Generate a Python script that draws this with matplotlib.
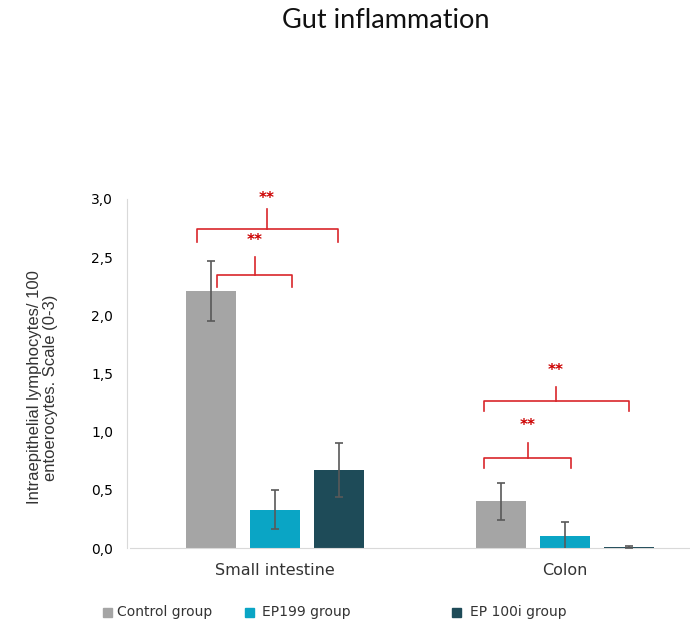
import matplotlib
matplotlib.use("Agg")
import matplotlib.pyplot as plt
import numpy as np

categories = ["Small intestine", "Colon"]
series_names = ["Control group", "EP199 group", "EP 100i group"]
control = [2.21, 0.40]
ep199 = [0.33, 0.10]
ep100i = [0.67, 0.01]
control_err = [0.26, 0.16]
ep199_err = [0.165, 0.12]
ep100i_err = [0.235, 0.01]
yticks = [0.0, 0.5, 1.0, 1.5, 2.0, 2.5, 3.0]
ytick_labels = ["0,0", "0,5", "1,0", "1,5", "2,0", "2,5", "3,0"]
colors = ["#A5A5A5", "#0AA5C5", "#1E4B58"]

fig = plt.figure(figsize=(6.9, 6.25), dpi=100)
ax = fig.add_axes([0.188, 0.1232, 0.812, 0.5584])

x = np.arange(len(categories))
w = 0.172
off = 0.221
vals = [control, ep199, ep100i]
errs = [control_err, ep199_err, ep100i_err]
for i, (v, e, c, n) in enumerate(zip(vals, errs, colors, series_names)):
    ax.bar(x + (i - 1) * off, v, w, color=c, label=n, zorder=2)
    ax.errorbar(x + (i - 1) * off, v, yerr=e, fmt="none", ecolor="#595959",
                elinewidth=1.2, capsize=3, capthick=1.2, zorder=3)

ax.set_xlim(-0.5, 1.43)
ax.set_ylim(0, 3.0)
ax.set_yticks(yticks)
ax.set_yticklabels(ytick_labels, fontsize=10, color="#404040", family="DejaVu Sans")
ax.set_xticks(x)
ax.set_xticklabels(categories, fontsize=11.5, color="#333333", family="DejaVu Sans")
ax.tick_params(length=0)
ax.tick_params(axis="y", pad=10)
ax.tick_params(axis="x", pad=11)
for s in ["top", "right"]:
    ax.spines[s].set_visible(False)
ax.spines["left"].set_color("#D9D9D9")
ax.spines["bottom"].set_color("#D9D9D9")
ax.spines["left"].set_position(("outward", 2))
ax.set_ylabel("Intraepithelial lymphocytes/ 100\nentoerocytes. Scale (0-3)",
              fontsize=12, family="Liberation Sans", color="#333333",
              linespacing=1.05, va="center", ha="center")
ax.yaxis.set_label_coords(-0.156, 0.46)

red = "#D9262B"
def brace(x0, x1, xt, y0, yh, yt, ys):
    ax.plot([x0, x0, x1, x1], [y0, yh, yh, y0], color=red, lw=1.2,
            clip_on=False, solid_joinstyle="round", zorder=4)
    ax.plot([xt, xt], [yh, yt], color=red, lw=1.2, clip_on=False, zorder=4)
    ax.text(xt, ys, "**", color="#CC0000", ha="center", va="center", fontsize=11,
            fontweight="bold", clip_on=False)

# small intestine
brace(-0.200, 0.059, -0.069, 2.24, 2.35, 2.50, 2.64)
brace(-0.269, 0.217, -0.028, 2.63, 2.74, 2.91, 3.00)
# colon
brace(1 - 0.279, 1 + 0.021, 1 - 0.128, 0.69, 0.775, 0.90, 1.05)
brace(1 - 0.279, 1 + 0.221, 1 - 0.031, 1.18, 1.265, 1.385, 1.53)

fig.text(0.559, 0.968, "Gut inflammation", ha="center", va="center",
         fontsize=19.5, family="Lato", color="#111111")

sq_x = [103, 245, 452]
tx_x = [117, 262, 470]
for sx, tx, c, n in zip(sq_x, tx_x, colors, series_names):
    fig.patches.append(matplotlib.patches.Rectangle((sx / 690, 1 - 617 / 625), 9 / 690, 9 / 625,
                       transform=fig.transFigure, color=c, figure=fig))
    fig.text(tx / 690, 1 - 612 / 625, n, fontsize=10,
             family="DejaVu Sans", color="#333333", va="center", ha="left")

fig.savefig("out.png", dpi=100)
